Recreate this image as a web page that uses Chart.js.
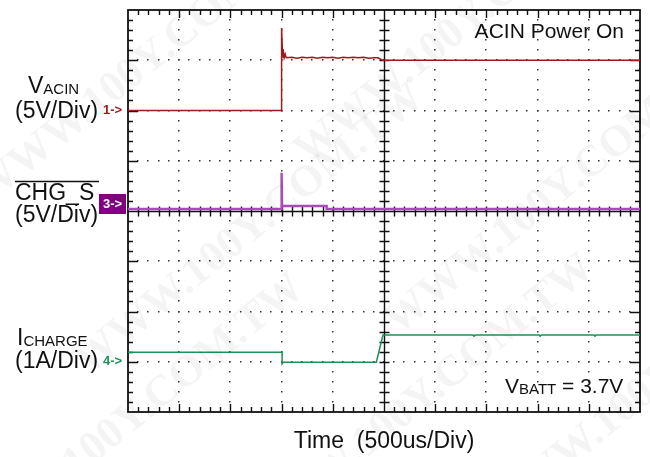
<!DOCTYPE html>
<html>
<head>
<meta charset="utf-8">
<script src="https://cdn.jsdelivr.net/npm/chart.js@4.4.1/dist/chart.umd.min.js"></script>
<style>
  html, body { margin: 0; padding: 0; background: #fff; }
  #scope { display: block; }
</style>
</head>
<body>
<canvas id="scope" width="650" height="457"></canvas>
<script>
'use strict';

// screen is 10 x 8 divisions, time 500us/div
// trace values are read off the picture in divisions (0 = bottom of screen)
const acinTime  = [0, 3.0, 3.0, 3.02, 3.03, 3.05, 3.07, 3.09, 3.2, 3.3, 3.4, 3.5, 3.6, 3.7, 3.8, 3.9, 4.0, 4.1, 4.2, 4.3, 4.4, 4.5, 4.6, 4.7, 4.8, 4.88, 4.97, 10];
const acinLevel = [6.0, 6.0, 7.64, 7.05, 7.22, 7.05, 7.12, 7.05, 7.06, 7.04, 7.06, 7.05, 7.06, 7.04, 7.06, 7.05, 7.06, 7.04, 7.06, 7.05, 7.06, 7.05, 7.06, 7.04, 7.05, 7.05, 7.0, 7.0];

const chgTime  = [0, 3.0, 3.0, 3.01, 3.88, 3.88, 10];
const chgLevel = [4.04, 4.04, 4.76, 4.10, 4.10, 4.04, 4.04];

const chargeTime  = [0, 3.01, 3.01, 3.03, 4.85, 4.98, 6.74, 6.76, 6.78, 8.03, 8.05, 8.07, 9.10, 9.12, 9.14, 10];
const chargeLevel = [1.19, 1.19, 0.96, 0.99, 0.99, 1.53, 1.53, 1.51, 1.53, 1.53, 1.51, 1.53, 1.53, 1.51, 1.53, 1.53];

// ground markers of channels 1, 3, 4
const markerNames  = ['1->', '3->', '4->'];
const markerLevels = [6.0, 4.04, 1.0];

const TRACE_COLORS = {
  acin:   '#9e1b1b',
  chg:    '#a84cb8',
  charge: '#1f9058',
};

const FONT = "'Liberation Sans', Arial, sans-serif";

function trace(times, levels) {
  return times.map((t, i) => ({ x: t, y: levels[i] }));
}

const scopeGrid = {
  id: 'scopeGrid',
  beforeDatasetsDraw(chart) {
    const { ctx, chartArea: a, scales: { x, y } } = chart;
    ctx.save();
    ctx.fillStyle = '#333';

    // dotted graticule
    for (let i = 1; i < 10; i++) {
      if (i === 5) continue;
      const px = Math.round(x.getPixelForValue(i));
      for (let j = 1; j < 40; j++) {
        const py = Math.round(y.getPixelForValue(j * 0.2));
        ctx.fillRect(px - 1, py - 1, 1.5, 1.5);
      }
    }
    for (let j = 1; j < 8; j++) {
      if (j === 4) continue;
      const py = Math.round(y.getPixelForValue(j));
      for (let i = 1; i < 50; i++) {
        const px = Math.round(x.getPixelForValue(i * 0.2));
        ctx.fillRect(px - 1, py - 1, 1.5, 1.5);
      }
    }

    ctx.strokeStyle = '#111';
    ctx.lineWidth = 1.4;
    ctx.beginPath();

    // edge ticks
    for (let i = 1; i < 50; i++) {
      const px = Math.round(x.getPixelForValue(i * 0.2)) + 0.5;
      const len = i % 5 === 0 ? 8 : 5;
      ctx.moveTo(px, a.top); ctx.lineTo(px, a.top + len);
      ctx.moveTo(px, a.bottom); ctx.lineTo(px, a.bottom - len);
    }
    for (let j = 1; j < 40; j++) {
      const py = Math.round(y.getPixelForValue(j * 0.2)) + 0.5;
      const len = j % 5 === 0 ? 10 : 5;
      ctx.moveTo(a.left, py); ctx.lineTo(a.left + len, py);
      ctx.moveTo(a.right, py); ctx.lineTo(a.right - len, py);
    }

    // centre cross with ticks
    const cx = Math.round(x.getPixelForValue(5)) + 0.5;
    const cy = Math.round(y.getPixelForValue(4)) + 0.5;
    ctx.moveTo(cx, a.top); ctx.lineTo(cx, a.bottom);
    ctx.moveTo(a.left, cy); ctx.lineTo(a.right, cy);
    for (let j = 1; j < 40; j++) {
      const py = Math.round(y.getPixelForValue(j * 0.2)) + 0.5;
      ctx.moveTo(cx - 5, py); ctx.lineTo(cx + 5, py);
    }
    for (let i = 1; i < 50; i++) {
      const px = Math.round(x.getPixelForValue(i * 0.2)) + 0.5;
      ctx.moveTo(px, cy - 5); ctx.lineTo(px, cy + 5);
    }
    ctx.stroke();

    ctx.lineWidth = 1.8;
    ctx.strokeRect(a.left, a.top, a.right - a.left, a.bottom - a.top);
    ctx.restore();
  },
};

// big letter followed by a smaller subscript, both on one baseline
function subText(ctx, main, sub, x0, base, big, small) {
  ctx.font = `${big}px ${FONT}`;
  ctx.fillText(main, x0, base);
  const w = ctx.measureText(main).width;
  ctx.font = `${small}px ${FONT}`;
  ctx.fillText(sub, x0 + w, base + 1);
  return x0 + w + ctx.measureText(sub).width;
}

const scopeLabels = {
  id: 'scopeLabels',
  afterDraw(chart) {
    const { ctx, scales: { x, y } } = chart;
    ctx.save();
    ctx.fillStyle = '#111';
    ctx.textAlign = 'left';
    ctx.textBaseline = 'alphabetic';

    subText(ctx, 'V', 'ACIN', 28, 93, 23, 15);
    ctx.font = `23px ${FONT}`;
    ctx.fillText('(5V/Div)', 15, 118);

    ctx.fillText('CHG_S', 15, 200);
    ctx.lineWidth = 1.5;
    ctx.strokeStyle = '#111';
    ctx.beginPath();
    ctx.moveTo(15, 181.5); ctx.lineTo(99, 181.5);
    ctx.stroke();
    ctx.fillText('(5V/Div)', 15, 222);

    subText(ctx, 'I', 'CHARGE', 17, 345, 23, 15);
    ctx.font = `23px ${FONT}`;
    ctx.fillText('(1A/Div)', 15, 368);

    ctx.font = `21px ${FONT}`;
    ctx.textAlign = 'right';
    ctx.fillText('ACIN Power On', 624, 38);

    ctx.textAlign = 'left';
    const after = subText(ctx, 'V', 'BATT', 505, 393, 21, 15);
    ctx.font = `21px ${FONT}`;
    ctx.fillText(' = 3.7V', after, 393);

    ctx.textAlign = 'center';
    ctx.font = `23px ${FONT}`;
    ctx.fillText('Time  (500us/Div)', x.getPixelForValue(5), 448);

    // channel ground markers
    const markerColors = [TRACE_COLORS.acin, '#800080', TRACE_COLORS.charge];
    ctx.font = `bold 13px ${FONT}`;
    ctx.textAlign = 'left';
    ctx.textBaseline = 'middle';
    markerNames.forEach((name, i) => {
      const py = y.getPixelForValue(markerLevels[i]);
      if (name === '3->') {
        ctx.fillStyle = markerColors[i];
        ctx.fillRect(99, py - 15, 27, 20);
        ctx.fillStyle = '#fff';
        ctx.fillText(name, 103, py - 5);
      } else {
        ctx.fillStyle = markerColors[i];
        ctx.fillText(name, 103, py);
      }
    });

    // faint site watermark
    ctx.fillStyle = 'rgba(0,0,0,0.045)';
    ctx.font = `bold 44px 'Liberation Serif', 'DejaVu Serif', serif`;
    ctx.textAlign = 'center';
    ctx.textBaseline = 'middle';
    const spots = [[150, 60], [470, 20], [250, 230], [560, 190], [130, 420], [420, 400], [660, 380]];
    spots.forEach(([wx, wy]) => {
      ctx.save();
      ctx.translate(wx, wy);
      ctx.rotate(-0.68);
      ctx.fillText('WWW.100Y.COM.TW', 0, 0);
      ctx.restore();
    });
    ctx.restore();
  },
};

new Chart(document.getElementById('scope'), {
  type: 'line',
  data: {
    datasets: [
      { label: 'VACIN',   data: trace(acinTime, acinLevel),     borderColor: TRACE_COLORS.acin,   borderWidth: 1.5 },
      { label: 'CHG_S',   data: trace(chgTime, chgLevel),       borderColor: TRACE_COLORS.chg,    borderWidth: 2.4 },
      { label: 'ICHARGE', data: trace(chargeTime, chargeLevel), borderColor: TRACE_COLORS.charge, borderWidth: 1.5 },
    ],
  },
  options: {
    responsive: false,
    animation: false,
    elements: {
      point: { radius: 0 },
      line:  { tension: 0, fill: false },
    },
    layout: { padding: { left: 128, top: 10, right: 10, bottom: 45 } },
    scales: {
      x: { type: 'linear', min: 0, max: 10, display: false },
      y: { type: 'linear', min: 0, max: 8,  display: false },
    },
    plugins: {
      legend:  { display: false },
      tooltip: { enabled: false },
    },
  },
  plugins: [scopeGrid, scopeLabels],
});
</script>
</body>
</html>
